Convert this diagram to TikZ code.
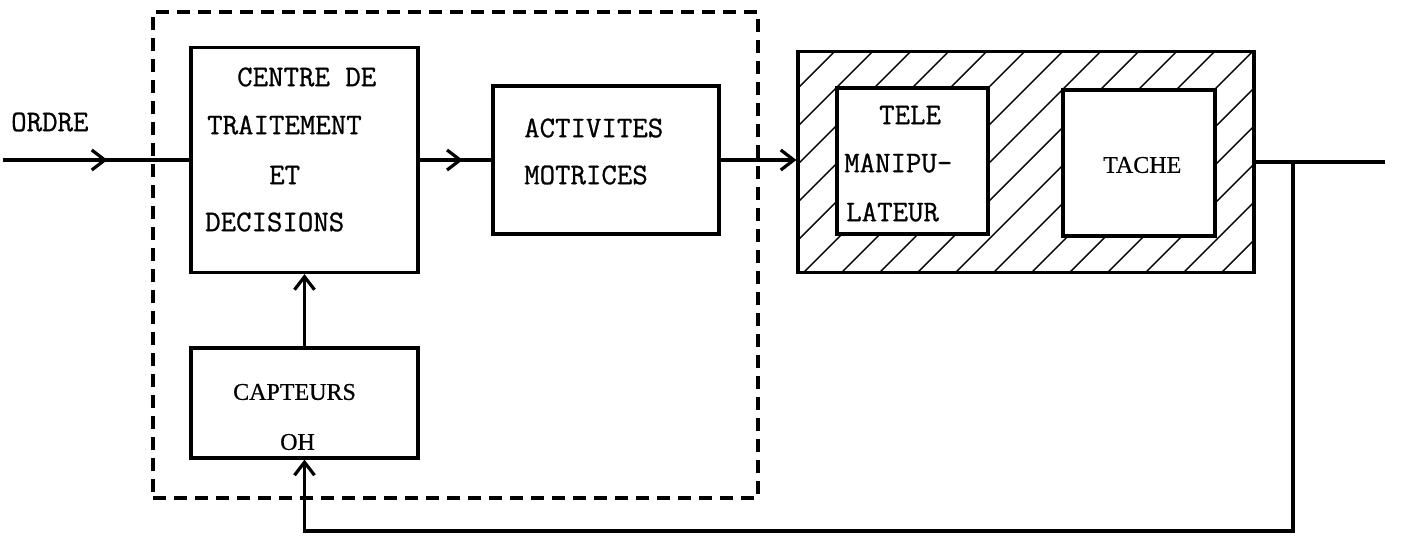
\documentclass[tikz,border=0pt]{standalone}
\usepackage{fontspec}
\newfontfamily\pserif{Liberation Serif}[FakeBold=0.6]
\newfontfamily\tmono{Latin Modern Mono}[FakeBold=0.8]
\usetikzlibrary{arrows.meta,decorations.markings}
\begin{document}
\begin{tikzpicture}[x=1pt,y=-1pt,
  >={Straight Barb[length=13pt,width=20pt]},
  box/.style={draw, line width=3.2pt, rectangle, inner sep=0pt},
  dashbox/.style={draw, line width=3.2pt, rectangle, inner sep=0pt, dash pattern=on 13pt off 8pt},
  wire/.style={line width=3.2pt},
  hatch/.style={line width=1.4pt},
  lbl/.style={anchor=west, inner sep=0pt, font=\tmono\fontsize{30}{36}\selectfont},
  plbl/.style={anchor=west, inner sep=0pt, font=\pserif\fontsize{24}{28}\selectfont},
  midarrow/.style={postaction={decorate}, decoration={markings, mark=at position #1 with {\arrow[line width=3.2pt]{>}}}}
]
\useasboundingbox (0,0) rectangle (1402,542);

% hatching of the teleoperation block
\begin{scope}
  \clip (798,52) rectangle (1254,273);
  \foreach \k in {-7,...,13} {
    \draw[hatch] ({1076+38*\k-300},300) -- ({1076+38*\k},0);
  }
\end{scope}

% human operator (dashed)
\node[dashbox, minimum width=605pt, minimum height=486pt] (human) at (455.5,255) {};

% boxes
\node[box, fill=white, minimum width=227pt, minimum height=225pt] (centre) at (304.5,160) {};
\node[box, fill=white, minimum width=226pt, minimum height=148pt] (activ) at (606,160) {};
\node[box, fill=white, minimum width=227pt, minimum height=110pt] (capt) at (304.5,403) {};
\node[box, minimum width=456pt, minimum height=221pt] (hatchbox) at (1026,162) {};
\node[box, fill=white, minimum width=151pt, minimum height=146pt] (tele) at (912.5,161) {};
\node[box, fill=white, minimum width=152pt, minimum height=146pt] (tache) at (1139,163) {};

% texts
\node[lbl] (tordre) at (11,122) {ORDRE};
\node[lbl] (t1) at (237,77) {CENTRE DE};
\node[lbl] (t2) at (207,125) {TRAITEMENT};
\node[lbl] (t3) at (269,175) {ET};
\node[lbl] (t4) at (205,222) {DECISIONS};
\node[lbl] (t5) at (524,128) {ACTIVITES};
\node[lbl] (t6) at (524,175) {MOTRICES};
\node[lbl] (t7) at (879,115) {TELE};
\node[lbl] (t8) at (844,163) {MANIPU-};
\node[lbl] (t9) at (846,212) {LATEUR};
\node[plbl] (t10) at (1103,165) {TACHE};
\node[plbl] (t11) at (233,392) {CAPTEURS};
\node[plbl] (t12) at (280,442) {OH};

% connectors
\coordinate (in) at (3,160);
\coordinate (out) at (1385,162);
\coordinate (fb) at (1293,162);
\coordinate (fbd) at (1293,531);

\draw[wire, midarrow=0.56] (in) -- (centre.west);
\draw[wire, midarrow=0.6] (centre.east) -- (activ.west);
\draw[wire, ->] (activ.east) -- (activ.east -| hatchbox.west);
\draw[wire] (hatchbox.east) -- (out);
\draw[wire, ->] (fb) -- (fbd) -| (capt.south);
\draw[wire, ->] (capt.north) -- (centre.south);
\end{tikzpicture}
\end{document}
